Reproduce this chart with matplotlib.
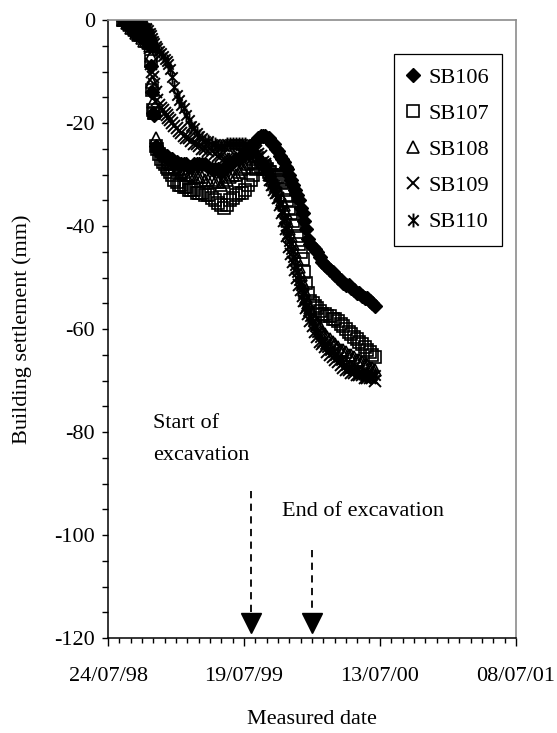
#!/usr/bin/env python3

import datetime as dt
import matplotlib
matplotlib.use('Agg')
from matplotlib import pyplot as plt
from matplotlib.path import Path
from matplotlib.ticker import MultipleLocator, FuncFormatter

plt.rcParams['font.family'] = ['Liberation Serif', 'DejaVu Serif']
plt.rcParams['axes.unicode_minus'] = False

# x values are Excel date serials; 36000 is 24/07/98
START = 36000
day_offsets = [
    40, 45, 50, 55, 60, 65, 70, 75, 80, 85, 90, 95, 100, 105, 110,
    113, 116, 119, 122, 126, 130,
    135, 140, 145, 150, 155, 160, 165, 170,
    176, 182, 188, 194, 200,
    207, 214, 221, 228, 235, 242,
    250, 258, 266, 274, 282, 290, 298, 306, 314, 322, 330, 338, 346, 354, 362, 370, 378,
    385, 392, 398,
    404, 410,
    415, 420, 425, 430, 435, 440, 445, 450, 455, 460, 465, 470,
    475, 480, 485, 490, 495, 500, 505, 510, 515, 520, 525, 530,
    536, 542, 548, 554, 560,
    567, 574, 581, 588, 595, 602, 609, 616, 623, 630,
    637, 644, 651, 658, 665, 672, 679, 686, 693, 700,
    706,
]

sb106 = [
    0, -0.5, -1, -1, -1.5, -2, -2.5, -2.5, -3, -3, -3.5, -3.5, -4, -4.5, -5,
    -9, -14, -18, -18.5, -24.5, -25,
    -25.5, -26, -26, -26.5, -26.5, -27, -27, -27,
    -27.5, -27.5, -28, -28, -28,
    -28, -28.5, -28.5, -28, -28, -28,
    -28, -28, -28.5, -29, -29, -29, -29.5, -29, -28.5, -28, -27.5, -27, -27, -26.5, -26, -25.5, -24.5,
    -24, -23.5, -23,
    -22.5, -22.5,
    -22.5, -23, -23, -23.5, -24, -24, -25, -25.5, -26.5, -27, -27.5, -28.5,
    -29, -30, -31, -32, -33, -34, -35, -36.5, -37.5, -39, -40.5, -42.5,
    -43.5, -44, -44.5, -45, -46,
    -47, -47.5, -48, -48.5, -49, -49.5, -50, -50.5, -51, -51.5,
    -51.5, -52, -52.5, -53, -53, -53.5, -54, -54, -54.5, -55,
    -55.5,
]

sb107 = [
    0, 0, 0, -0.5, -0.5, -1, -1, -1, -1.5, -2, -2, -2.5, -3, -3.5, -4.5,
    -8, -13.5, -17.5, -18, -24.5, -25,
    -26, -27, -27.5, -28, -28.5, -29, -29.5, -30,
    -31, -31.5, -32, -32, -32.5,
    -32.5, -33, -33, -33, -33.5, -33.5,
    -33.5, -34, -34, -34.5, -35, -35.5, -36, -36.5, -36, -35, -34.5, -34, -33.5, -33.5, -33, -32, -31,
    -30, -29, -28.5,
    -28.5, -29,
    -28.5, -29, -29.5, -29.5, -30, -30, -30.5, -30.5, -31, -31.5, -33, -34,
    -35, -36.5, -37.5, -39, -40, -42, -43.5, -45, -46.5, -49, -51, -53,
    -54.5, -55, -55.5, -56, -56.5,
    -57, -57, -57.5, -57.5, -58, -58, -58.5, -59, -59.5, -60,
    -60.5, -61, -61.5, -62, -62.5, -63, -63.5, -64, -64.5, -65,
    -65.5,
]

sb108 = [
    0, 0, -0.5, -1, -1.5, -1.5, -2, -2.5, -3, -3, -3.5, -4, -4, -4.5, -5,
    -7, -12, -16, -18, -23, -24.5,
    -25, -25.5, -26, -26.5, -27, -27.5, -28, -28,
    -28.5, -29, -29, -29.5, -29.5,
    -30, -30, -30, -30.5, -30.5, -30.5,
    -30.5, -31, -31, -31, -31.5, -31.5, -32, -31.5, -31, -30.5, -30, -30, -29.5, -29, -28.5, -28, -27.5,
    -27, -26.5, -26.5,
    -27, -27.5,
    -28, -28.5, -29, -30, -31, -31.5, -32, -33, -34, -35, -36, -37.5,
    -39, -40.5, -42, -43.5, -45, -46.5, -48, -49.5, -51, -52.5, -54, -55,
    -56, -57, -58, -59, -59.5,
    -60.5, -61, -61.5, -62, -62.5, -63, -63.5, -64, -64, -64.5,
    -65, -65, -65.5, -66, -66, -66.5, -67, -67, -67.5, -67.5,
    -68,
]

sb109 = [
    0, 0, 0, -0.5, -0.5, -0.5, -1, -1, -1, -1.5, -1.5, -2, -2, -3, -5.5,
    -8.5, -10, -11, -12.5, -14, -15.5,
    -16.5, -17, -17.5, -18, -18.5, -19, -19.5, -20,
    -20.5, -21, -21.5, -22, -22.5,
    -23, -23, -23.5, -24, -24, -24.5,
    -25, -25, -25.5, -25.5, -26, -26.5, -26.5, -27, -27, -27, -27, -26.5, -26.5, -26, -26, -25.5, -25.5,
    -25.5, -25.5, -26,
    -26.5, -27.5,
    -28, -29, -30, -31, -32, -33, -33.5, -34.5, -36, -37.5, -39, -40.5,
    -42, -44, -45.5, -47, -48.5, -50, -51.5, -52.5, -53.5, -54.5, -56, -57,
    -58.5, -59.5, -60.5, -61.5, -62.5,
    -63, -63.5, -64.5, -65, -65.5, -66, -66.5, -67, -67.5, -68,
    -68, -68.5, -68.5, -69, -69, -69, -69.5, -69.5, -69.5, -69.5,
    -70,
]

sb110 = [
    0, 0, 0, 0, 0, -0.5, -0.5, -0.5, -1, -1, -1, -1.5, -1.5, -2, -2.5,
    -3, -3.5, -4, -4.5, -5, -5.5,
    -6, -6.5, -7, -7.5, -8, -8.5, -9.5, -11,
    -13, -14.5, -15.5, -16.5, -17,
    -18.5, -19.5, -20.5, -21, -22, -22.5,
    -23, -23.5, -23.5, -24, -24, -24.5, -24.5, -24.5, -24, -24, -24, -24, -24, -24, -24, -24.5, -25,
    -25.5, -26, -26.5,
    -27.5, -28,
    -28, -29, -30, -31, -32, -32.5, -33.5, -34.5, -35.5, -37, -38.5, -40,
    -41.5, -43, -44.5, -46, -47.5, -49, -50.5, -51.5, -53, -54.5, -55.5, -56.5,
    -57.5, -58.5, -59.5, -60.5, -61.5,
    -62.5, -63, -63.5, -64, -64.5, -65, -65.5, -66, -66.5, -67,
    -67.5, -67.5, -68, -68, -68.5, -68.5, -69, -69, -69, -69,
    -69,
]

labels = ['SB106', 'SB107', 'SB108', 'SB109', 'SB110']

# excavation arrows: date offset, top of dashed shaft, tip (mm)
arrow_days = [378, 540]
arrow_tops = [-91.5, -103]
arrow_tip = -119


def serial_to_str(x, pos=None):
    d = dt.datetime(1899, 12, 30) + dt.timedelta(days=float(x))
    return d.strftime('%d/%m/%y')


def main():
    x = [START + d for d in day_offsets]
    series = [sb106, sb107, sb108, sb109, sb110]
    for s in series:
        assert len(s) == len(x)

    # asterisk: an x with a vertical bar through it
    star = Path([(0, -1), (0, 1), (-0.75, -0.75), (0.75, 0.75),
                 (-0.75, 0.75), (0.75, -0.75)],
                [Path.MOVETO, Path.LINETO, Path.MOVETO, Path.LINETO,
                 Path.MOVETO, Path.LINETO])
    styles = [
        dict(marker='D', ms=7.5, mfc='black', mec='black', mew=1.0),
        dict(marker='s', ms=8, mfc='none', mec='black', mew=1.2),
        dict(marker='^', ms=8, mfc='none', mec='black', mew=1.2),
        dict(marker='x', ms=9, mec='black', mew=1.4),
        dict(marker=star, ms=10, mec='black', mew=1.4),
    ]

    fig = plt.figure(figsize=(5.57, 7.33), dpi=100)
    ax = fig.add_axes([0.1939, 0.1296, 0.7325, 0.8431])

    for s, lab, st in zip(series, labels, styles):
        ax.plot(x, s, linestyle='none', label=lab, **st)

    # arrows marking start / end of excavation
    for d, top in zip(arrow_days, arrow_tops):
        ax.plot([START + d, START + d], [top, arrow_tip + 2.5], color='black',
                lw=1.3, dashes=(4, 3))
        ax.plot([START + d], [arrow_tip + 1.85], marker='v', ms=14,
                color='black', linestyle='none')

    ax.text(START + 119, -79.2, 'Start of', fontsize=16,
            va='baseline', ha='left')
    ax.text(START + 119, -85.4, 'excavation', fontsize=16,
            va='baseline', ha='left')
    ax.text(START + 460, -96.3, 'End of excavation', fontsize=16,
            va='baseline', ha='left')

    ax.set_xlim(36000, 37080)
    ax.set_ylim(-120, 0)
    ax.xaxis.set_major_locator(MultipleLocator(360))
    ax.xaxis.set_minor_locator(MultipleLocator(30))
    ax.xaxis.set_major_formatter(FuncFormatter(serial_to_str))
    ax.yaxis.set_major_locator(MultipleLocator(20))
    ax.yaxis.set_minor_locator(MultipleLocator(5))

    ax.tick_params(axis='both', which='both', direction='out', width=1,
                   labelsize=16, color='black')
    ax.tick_params(axis='x', which='major', length=6, pad=15)
    ax.tick_params(axis='x', which='minor', length=3.5)
    ax.tick_params(axis='y', which='both', length=4.5, pad=5)

    for side in ['left', 'bottom']:
        ax.spines[side].set_color('black')
        ax.spines[side].set_linewidth(1.1)
    for side in ['top', 'right']:
        ax.spines[side].set_color('#8c8c8c')
        ax.spines[side].set_linewidth(1.2)

    ax.set_xlabel('Measured date', fontsize=16, labelpad=17)
    ax.set_ylabel('Building settlement (mm)', fontsize=16, labelpad=16)

    leg = ax.legend(loc='upper right', bbox_to_anchor=(0.966, 0.945),
                    fontsize=16, frameon=True, fancybox=False, framealpha=1,
                    edgecolor='black', handlelength=0.5, handletextpad=0.45,
                    labelspacing=0.7, borderpad=0.6, borderaxespad=0)
    leg.get_frame().set_linewidth(0.9)

    fig.savefig('out.png', dpi=100)


if __name__ == '__main__':
    main()
